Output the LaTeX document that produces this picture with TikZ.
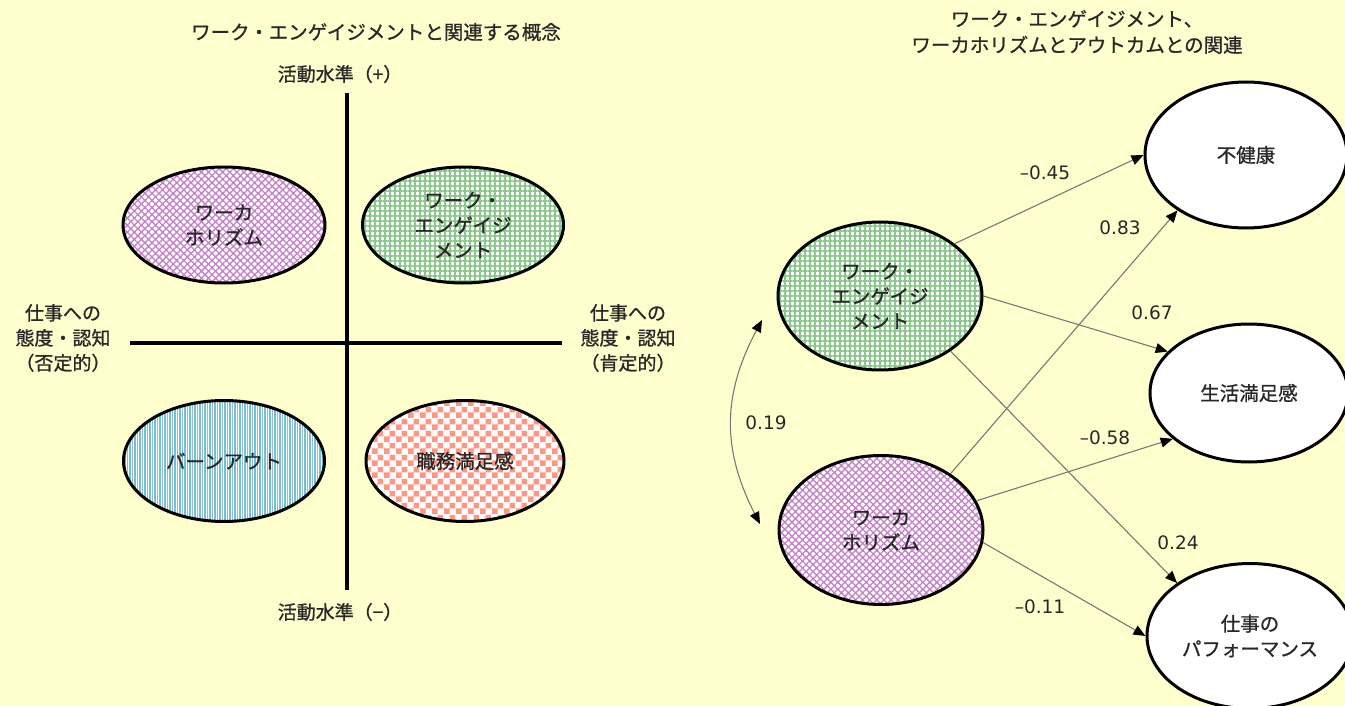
\documentclass[tikz,border=0pt]{standalone}
\usepackage{fontspec}
\setmainfont{Noto Sans CJK JP}[FakeBold=0.9]
\newfontfamily\numfont{DejaVu Sans}
\usetikzlibrary{shapes.geometric,arrows.meta,patterns,patterns.meta}
\pgfdeclarepatternformonly{bigcheck}{\pgfpointorigin}{\pgfqpoint{12pt}{12pt}}{\pgfqpoint{12pt}{12pt}}{%
  \pgfpathrectangle{\pgfpointorigin}{\pgfqpoint{6pt}{6pt}}%
  \pgfpathrectangle{\pgfqpoint{6pt}{6pt}}{\pgfqpoint{6pt}{6pt}}%
  \pgfusepath{fill}}
\definecolor{bg}{RGB}{255,255,206}
\definecolor{txt}{RGB}{40,40,40}
\definecolor{pur}{RGB}{196,128,200}
\definecolor{grn}{RGB}{140,200,140}
\definecolor{cyn}{RGB}{100,200,205}
\definecolor{lav}{RGB}{170,170,235}
\definecolor{sal}{RGB}{255,150,130}
\definecolor{lin}{RGB}{120,120,120}
\begin{document}
\begin{tikzpicture}[x=1pt,y=-1pt,
  lbl/.style={text=txt,font=\fontsize{19}{25}\selectfont,align=center,inner sep=0pt},
  ttl/.style={text=txt,font=\fontsize{19.5}{26}\selectfont,align=center,inner sep=0pt},
  num/.style={text=txt,font=\numfont\fontsize{18.5}{22}\selectfont,inner sep=0pt},
  ell/.style={ellipse,draw=black,line width=3pt,inner sep=0pt,align=center,text=txt,
    font=\fontsize{19.5}{25}\selectfont},
  pcross/.style={preaction={fill=white},pattern={Hatch[angle=45,distance=5pt,line width=1.3pt]},pattern color=pur},
  pgrid/.style={preaction={fill=white},pattern={Hatch[angle=0,distance=5pt,line width=2pt]},pattern color=grn},
  pstripe/.style={preaction={fill=white},preaction={pattern={Lines[angle=90,distance=5pt,line width=1.4pt,xshift=2.5pt]},pattern color=lav},pattern={Lines[angle=90,distance=5pt,line width=1.6pt]},pattern color=cyn},
  pcheck/.style={preaction={fill=white},pattern=bigcheck,pattern color=sal},
  axis/.style={line width=3.5pt,black},
  conn/.style={draw=lin,line width=1.1pt,-{Triangle[length=12pt,width=10pt,color=black]}},
]
\fill[bg] (0,0) rectangle (1345,706);
\useasboundingbox (0,0) rectangle (1345,706);

% ---------- left panel ----------
\node[ttl] (lt) at (376,32) {ワーク・エンゲイジメントと関連する概念};
\node[lbl] (top) at (340,74) {活動水準（+）};
\node[lbl] (bot) at (340,612) {活動水準（−）};
\coordinate (vt) at (347,93);
\coordinate (vb) at (347,590);
\coordinate (hl) at (130,343);
\coordinate (hr) at (562,343);
\draw[axis] (vt) -- (vb);
\draw[axis] (hl) -- (hr);
\node[lbl] (neg) at (63,338) {仕事への\\態度・認知\\（否定的）};
\node[lbl] (pos) at (628,338) {仕事への\\態度・認知\\（肯定的）};

\node[ell,pcross,minimum width=202pt,minimum height=116pt] (wh1) at (224,225) {ワーカ\\ホリズム};
\node[ell,pgrid,minimum width=201pt,minimum height=116pt] (we1) at (463,225) {ワーク・\\エンゲイジ\\メント};
\node[ell,pstripe,minimum width=201pt,minimum height=121pt] (bo) at (224,461) {バーンアウト};
\node[ell,pcheck,minimum width=198pt,minimum height=121pt] (js) at (465,461) {職務満足感};

% ---------- right panel ----------
\node[ttl] (rt) at (1077,32) {ワーク・エンゲイジメント、\\ワーカホリズムとアウトカムとの関連};

\node[ell,pgrid,minimum width=204pt,minimum height=148pt] (we) at (880,296) {ワーク・\\エンゲイジ\\メント};
\node[ell,pcross,minimum width=204pt,minimum height=149pt] (wh) at (881,530) {ワーカ\\ホリズム};
\node[ell,fill=white,minimum width=202pt,minimum height=146pt] (bk) at (1246,155) {不健康};
\node[ell,fill=white,minimum width=198pt,minimum height=138pt] (sm) at (1249,393) {生活満足感};
\node[ell,fill=white,minimum width=206pt,minimum height=145pt] (pf) at (1250,636) {仕事の\\パフォーマンス};

\draw[conn] (we.35) -- (bk.west);
\draw[conn] (we.east) -- (sm.153);
\draw[conn] (we.322) -- (pf.144);
\draw[conn] (wh.39) -- (bk.219);
\draw[conn] (wh.17) -- (sm.211);
\draw[conn] (wh.353) -- (pf.west);

\node[num] (n1) at (1045,173) {–0.45};
\node[num] (n2) at (1120,228) {0.83};
\node[num] (n3) at (1152,313) {0.67};
\node[num] (n4) at (1105,438) {–0.58};
\node[num] (n5) at (1178,543) {0.24};
\node[num] (n6) at (1040,607) {–0.11};

\coordinate (c1) at (762,320);
\coordinate (c2) at (760,524);
\draw[draw=lin,line width=1.1pt,{Triangle[length=12pt,width=10pt,color=black]}-{Triangle[length=12pt,width=10pt,color=black]}]
  (c1) .. controls (722,395) and (722,450) .. (c2);
\node[num] (n7) at (766,423) {0.19};
\end{tikzpicture}
\end{document}
